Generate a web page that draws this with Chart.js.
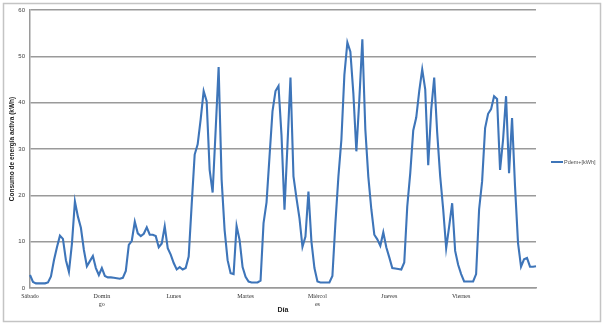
<!DOCTYPE html>
<html>
<head>
<meta charset="utf-8">
<script src="https://cdn.jsdelivr.net/npm/chart.js@4"></script>
<style>
    html, body { margin: 0; padding: 0; background: #fff; }
    #wrap { width: 603px; height: 324px; }
</style>
</head>
<body>
<div id="wrap"><canvas id="consumoChart" width="603" height="324"></canvas></div>
<script>
// Day names shown on the category axis (one every 24 hourly points)
const days = ['Sábado', ['Domin', 'go'], 'Lunes', 'Martes', ['Miércol', 'es'], 'Jueves', 'Viernes'];
const hoursPerDay = 24;

// Hourly active energy consumption, Pdem+ [kWh]
const pdem = [
    2.8, 1.3, 1.0, 1.0, 1.0, 1.0, 1.2, 2.5, 6.0, 8.8, 11.3, 10.6,
    6.0, 3.5, 9.5, 18.7, 15.4, 13.0, 8.2, 4.7, 5.8, 6.9, 4.3, 2.8,
    4.3, 2.6, 2.3, 2.3, 2.2, 2.1, 2.0, 2.2, 3.7, 9.3, 10.2, 14.3,
    11.8, 11.2, 11.7, 13.1, 11.5, 11.5, 11.2, 8.8, 9.6, 13.3, 8.6, 7.2,
    5.4, 4.0, 4.5, 4.0, 4.3, 6.8, 18.0, 28.8, 31.0, 36.4, 42.5, 40.3,
    25.5, 20.6, 34.0, 47.7, 23.4, 12.5, 6.0, 3.2, 3.0, 13.4, 10.4, 4.5,
    2.4, 1.4, 1.2, 1.2, 1.2, 1.6, 14.0, 18.5, 28.4, 38.2, 42.5, 43.6,
    33.0, 16.9, 31.0, 45.4, 24.1, 19.4, 15.1, 8.9, 11.1, 20.8, 10.0, 4.3,
    1.4, 1.2, 1.2, 1.2, 1.2, 2.6, 14.0, 24.0, 32.0, 46.0, 53.0, 51.0,
    42.0, 29.5, 40.7, 53.7, 34.2, 24.0, 17.0, 11.5, 10.5, 9.1, 12.0, 8.8,
    6.6, 4.3, 4.2, 4.1, 4.0, 5.5, 17.6, 24.8, 34.0, 36.8, 42.5, 47.2,
    42.9, 26.5, 38.5, 45.4, 33.5, 24.1, 17.0, 8.6, 13.3, 18.3, 8.0, 5.0,
    3.0, 1.4, 1.4, 1.4, 1.4, 3.0, 17.0, 23.0, 34.5, 37.6, 38.6, 41.4,
    40.8, 25.5, 32.0, 41.4, 24.8, 36.7, 21.9, 9.7, 4.6, 6.2, 6.5, 4.6,
    4.6, 4.7
];

const yTicks = { min: 0, max: 60, step: 10 };

const labels = pdem.map((v, i) => (i % hoursPerDay === 0 ? (days[i / hoursPerDay] || '') : ''));

const gridGray = '#9a9a9a';
const lineBlue = '#3e75b9';

// outer frame like the spreadsheet chart border
const frame = {
    id: 'frame',
    beforeDraw(chart) {
        const ctx = chart.ctx;
        ctx.save();
        ctx.fillStyle = '#fff';
        ctx.fillRect(0, 0, chart.width, chart.height);
        ctx.strokeStyle = '#c4c4c4';
        ctx.lineWidth = 1.5;
        ctx.strokeRect(3.5, 3.5, chart.width - 6, chart.height - 6);
        ctx.restore();
    }
};

// legend entry to the right of the plot, centred on the canvas height
const sideLegend = {
    id: 'sideLegend',
    afterDraw(chart) {
        const ctx = chart.ctx;
        const ds = chart.data.datasets[0];
        const x = chart.chartArea.right + 15;
        const y = chart.height / 2;
        ctx.save();
        ctx.strokeStyle = ds.borderColor;
        ctx.lineWidth = 2;
        ctx.beginPath();
        ctx.moveTo(x, y);
        ctx.lineTo(x + 12, y);
        ctx.stroke();
        ctx.fillStyle = '#505050';
        ctx.font = '5.5px "Liberation Sans"';
        ctx.textBaseline = 'middle';
        ctx.fillText(ds.label, x + 13, y);
        ctx.restore();
    }
};

new Chart(document.getElementById('consumoChart'), {
    type: 'line',
    data: {
        labels: labels,
        datasets: [{
            label: 'Pdem+[kWh]',
            data: pdem,
            borderColor: lineBlue,
            backgroundColor: lineBlue,
            borderWidth: 2.1,
            pointRadius: 0,
            tension: 0,
            fill: false
        }]
    },
    options: {
        responsive: false,
        animation: false,
        layout: { padding: { top: 10, left: 0, right: 67, bottom: 8 } },
        plugins: {
            tooltip: { enabled: false },
            legend: { display: false }
        },
        scales: {
            x: {
                offset: false,
                grid: { display: false, drawTicks: false },
                border: { display: true, color: gridGray, width: 1.5 },
                ticks: {
                    autoSkip: false,
                    maxRotation: 0,
                    padding: 4,
                    color: '#303030',
                    font: { family: 'Liberation Serif', size: 6, lineHeight: 1.4 }
                },
                title: {
                    display: true,
                    text: 'Día',
                    color: '#222',
                    font: { family: 'Liberation Sans', size: 7, weight: 'bold' },
                    padding: { top: 0, bottom: 2 }
                },
                afterFit(scale) { scale.height = 28; }
            },
            y: {
                min: yTicks.min,
                max: yTicks.max,
                grid: { color: gridGray, lineWidth: 1.4, drawTicks: false },
                border: { display: true, color: gridGray, width: 1.5 },
                ticks: {
                    stepSize: yTicks.step,
                    padding: 5,
                    color: '#404040',
                    font: { family: 'Liberation Sans', size: 6 }
                },
                title: {
                    display: true,
                    text: 'Consumo de energía activa (kWh)',
                    color: '#222',
                    font: { family: 'Liberation Sans', size: 6.5, weight: 'bold' },
                    padding: { top: 8, bottom: 0 }
                },
                afterFit(scale) { scale.width = 30; }
            }
        }
    },
    plugins: [frame, sideLegend]
});
</script>
</body>
</html>
